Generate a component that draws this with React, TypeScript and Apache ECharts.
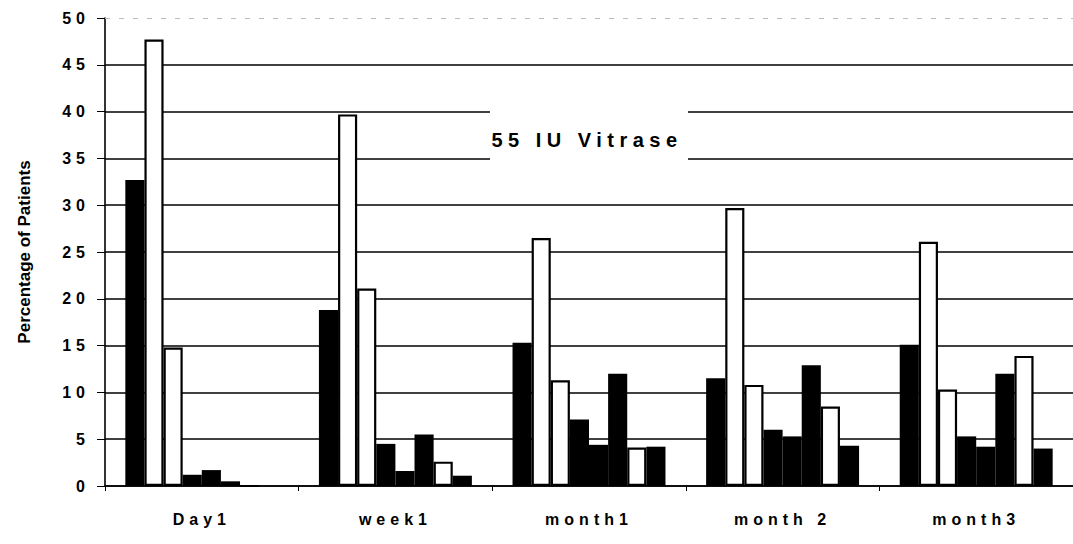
import React, { useEffect, useRef } from "react";
import * as echarts from "echarts";

const categories = ["Day1", "week1", "month1", "month 2", "month3"];
const seriesA = [32.7, 18.8, 15.3, 11.5, 15.1];
const seriesB = [47.7, 39.7, 26.5, 29.7, 26.1];
const seriesC = [14.8, 21.1, 11.3, 10.8, 10.3];
const seriesD = [1.2, 4.5, 7.1, 6.0, 5.3];
const seriesE = [1.7, 1.6, 4.4, 5.3, 4.2];
const seriesF = [0.5, 5.5, 12.0, 12.9, 12.0];
const seriesG = [0, 2.6, 4.1, 8.5, 13.9];
const seriesH = [0, 1.1, 4.2, 4.3, 4.0];
const allSeries = [seriesA, seriesB, seriesC, seriesD, seriesE, seriesF, seriesG, seriesH];
const fills = ["#000", "#fff", "#fff", "#000", "#000", "#000", "#fff", "#000"];
const titleText = "55 IU Vitrase";
const yTitle = "Percentage of Patients";

const FONT = "'Liberation Sans', Arial, Helvetica, sans-serif";

export default function App() {
  const ref = useRef<HTMLDivElement>(null);
  useEffect(() => {
    if (!ref.current) return;
    const chart = echarts.init(ref.current, null, { renderer: "svg" });
    const series: any[] = allSeries.map((vals, i) => ({
      type: "bar",
      data: vals,
      barGap: "0%",
      barCategoryGap: "21%",
      silent: true,
      itemStyle: {
        color: fills[i],
        borderColor: "#000",
        borderWidth: fills[i] === "#fff" ? 2.2 : 0,
      },
      ...(i === 0
        ? {
            markLine: {
              silent: true,
              symbol: "none",
              label: { show: false },
              lineStyle: { color: "#bbb", type: [5, 9], width: 1 },
              data: [{ yAxis: 50 }],
            },
          }
        : {}),
    }));
    chart.setOption({
      animation: false,
      backgroundColor: "#fff",
      grid: { left: 105, right: -8, top: 18, bottom: 58, containLabel: false },
      xAxis: {
        type: "category",
        data: categories,
        axisLine: { show: true, lineStyle: { color: "#000", width: 1.6 } },
        axisTick: { show: true, length: 5, alignWithLabel: false, lineStyle: { color: "#000" } },
        axisLabel: {
          margin: 25,
          color: "#000",
          fontFamily: FONT,
          fontWeight: "bold",
          fontSize: 16,
        },
        splitLine: { show: false },
      },
      yAxis: {
        type: "value",
        min: 0,
        max: 50,
        interval: 5,
        name: yTitle,
        nameLocation: "middle",
        nameGap: 72,
        nameTextStyle: { color: "#000", fontFamily: FONT, fontWeight: "bold", fontSize: 17 },
        axisLine: { show: true, lineStyle: { color: "#000", width: 1.6 } },
        axisTick: { show: true, length: 8, lineStyle: { color: "#000" } },
        axisLabel: {
          margin: 15,
          color: "#000",
          fontFamily: FONT,
          fontWeight: "bold",
          fontSize: 16,
        },
        splitLine: { show: true, showMaxLine: false, lineStyle: { color: "#000", width: 1.6 } },
      },
      graphic: [
        {
          type: "rect",
          z: 100,
          shape: { x: 490, y: 100, width: 198, height: 72 },
          style: { fill: "#fff" },
          silent: true,
        },
        {
          type: "text",
          z: 101,
          x: 587,
          y: 140,
          silent: true,
          style: {
            text: titleText,
            font: `bold 20px ${FONT}`,
            fill: "#000",
            textAlign: "center",
            verticalAlign: "middle",
          },
        },
      ],
      series,
    });
    const applySpacing = () => {
      ref.current?.querySelectorAll("text").forEach((t) => {
        const s = t.textContent || "";
        if (s === yTitle) return;
        (t as SVGTextElement).style.letterSpacing = s === titleText ? "5.5px" : "5px";
      });
    };
    applySpacing();
    chart.on("finished", applySpacing);
    return () => chart.dispose();
  }, []);
  return (
    <div
      ref={ref}
      style={{ position: "absolute", left: 0, top: 0, width: 1073, height: 544, background: "#fff" }}
    />
  );
}
